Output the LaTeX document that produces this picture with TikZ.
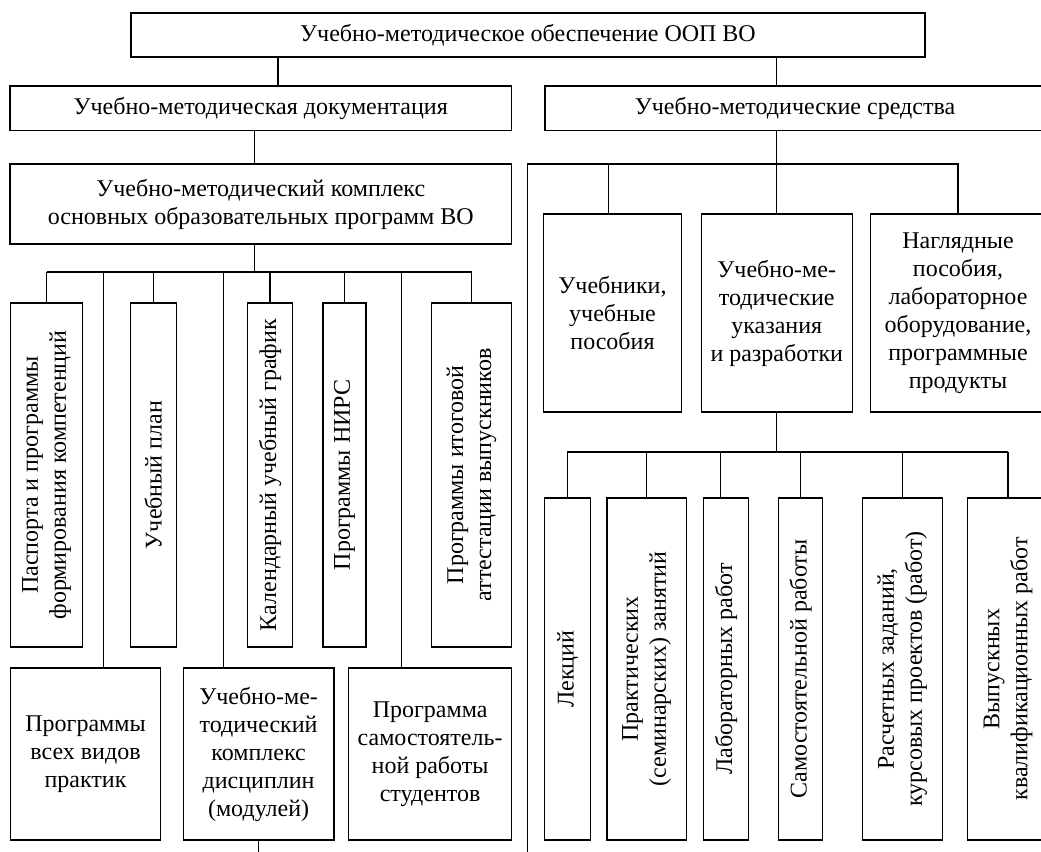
\documentclass[tikz,border=0pt]{standalone}
\usepackage{fontspec}
\setmainfont{Liberation Serif}
\newcommand\diagfont{\fontsize{24}{28}\selectfont}
\tikzset{
  box/.style={draw, line width=1.1pt, inner sep=0pt, align=center, font=\diagfont},
  hbox/.style={box},
  vbox/.style={box, rotate=90},
  conn/.style={line width=1.1pt},
}
\begin{document}
\begin{tikzpicture}[x=1pt,y=-1pt]
\useasboundingbox (0,0) rectangle (1041,851);
\clip (0,0) rectangle (1041,851);
% top levels
\node[hbox, minimum width=794pt, minimum height=44pt] (top) at (528,35) {Учебно-методическое обеспечение ООП ВО};
\node[hbox, minimum width=501.5pt, minimum height=44.5pt] (doc) at (260.75,108.25) {Учебно-методическая документация};
\node[hbox, minimum width=500pt, minimum height=44.5pt] (sred) at (795,108.25) {Учебно-методические средства};
\node[hbox, minimum width=501.5pt, minimum height=80pt] (umk) at (260.75,204) {Учебно-методический комплекс\\основных образовательных программ ВО};
% left vertical boxes
\node[vbox, minimum width=344pt, minimum height=72.3pt] (b1) at (46.5,475) {Паспорта и программы\\формирования компетенций};
\node[vbox, minimum width=344pt, minimum height=46.1pt] (b2) at (153.2,475) {Учебный план};
\node[vbox, minimum width=344pt, minimum height=45.5pt] (b3) at (270,475) {Календарный учебный график};
\node[vbox, minimum width=344pt, minimum height=43pt] (b4) at (344.5,475) {Программы НИРС};
\node[vbox, minimum width=344pt, minimum height=80pt] (b5) at (471.5,475) {Программы итоговой\\аттестации выпускников};
% left bottom boxes
\node[hbox, minimum width=150.5pt, minimum height=172pt] (ba) at (85.5,754) {Программы\\всех видов\\практик};
\node[hbox, minimum width=150.8pt, minimum height=172pt] (bb) at (258.6,754) {Учебно-ме-\\тодический\\комплекс\\дисциплин\\(модулей)};
\node[hbox, minimum width=162.6pt, minimum height=172pt] (bc) at (430.1,754) {Программа\\самостоятель-\\ной работы\\студентов};
% right middle boxes
\node[hbox, minimum width=137.4pt, minimum height=198pt] (uch) at (612.5,313) {Учебники,\\учебные\\пособия};
\node[hbox, minimum width=151.1pt, minimum height=198pt] (um) at (776.75,313) {Учебно-ме-\\тодические\\указания\\и разработки};
\node[hbox, minimum width=175.7pt, minimum height=198pt] (nag) at (958,313) {Наглядные\\пособия,\\лабораторное\\оборудование,\\программные\\продукты};
% right bottom vertical boxes
\node[vbox, minimum width=342pt, minimum height=45.5pt] (r1) at (567.65,669) {Лекций};
\node[vbox, minimum width=342pt, minimum height=79.3pt] (r2) at (646.65,669) {Практических\\(семинарских) занятий};
\node[vbox, minimum width=342pt, minimum height=44.8pt] (r3) at (726,669) {Лабораторных работ};
\node[vbox, minimum width=342pt, minimum height=43.8pt] (r4) at (800.7,669) {Самостоятельной работы};
\node[vbox, minimum width=342pt, minimum height=80.1pt] (r5) at (902.35,669) {Расчетных заданий,\\курсовых проектов (работ)};
\node[vbox, minimum width=342pt, minimum height=80.8pt] (r6) at (1008,669) {Выпускных\\квалификационных работ};
% connector helpers
\coordinate (xa) at (278,0);
\coordinate (xd) at (254.8,272);
\coordinate (busL) at (46.5,272);
\coordinate (busR) at (471.8,272);
\coordinate (xA) at (103.3,272);
\coordinate (xB) at (223.5,272);
\coordinate (xC) at (401.2,272);
\coordinate (fb) at (527.6,860);
\coordinate (fc) at (527.6,164);
\coordinate (k1) at (608.7,164);
\coordinate (bus2) at (776.75,452);
\coordinate (bus2L) at (567.3,452);
\coordinate (bus2R) at (1008,452);
\coordinate (k3) at (720.8,452);
\coordinate (bend) at (258.3,860);
% connectors
\draw[conn] (xa |- top.south) -- (xa |- doc.north);
\draw[conn] (top.south -| sred.north) ++(-18.3pt,0) coordinate (xs) -- (xs |- sred.north);
\draw[conn] (xd |- doc.south) -- (xd |- umk.north);
\draw[conn] (xd |- umk.south) -- (xd);
\draw[conn] (busL) -- (busR);
\draw[conn] (busL) -- (busL |- b1.east);
\draw[conn] (b2.east |- xd) -- (b2.east);
\draw[conn] (b3.east |- xd) -- (b3.east);
\draw[conn] (b4.east |- xd) -- (b4.east);
\draw[conn] (busR) -- (busR |- b5.east);
\draw[conn] (xA) -- (xA |- ba.north);
\draw[conn] (xB) -- (xB |- bb.north);
\draw[conn] (xC) -- (xC |- bc.north);
\draw[conn] (bb.south -| bend) -- (bend);
% right side
\draw[conn] (fb) -- (fc) -- (fc -| nag.north) -- (nag.north);
\draw[conn] (k1) -- (k1 |- uch.north);
\draw[conn] (sred.south -| um.north) -- (um.north);
\draw[conn] (um.south) -- (bus2);
\draw[conn] (bus2L) -- (bus2R);
\draw[conn] (bus2L) -- (bus2L |- r1.east);
\draw[conn] (r2.east |- bus2) -- (r2.east);
\draw[conn] (k3) -- (k3 |- r3.east);
\draw[conn] (r4.east |- bus2) -- (r4.east);
\draw[conn] (r5.east |- bus2) -- (r5.east);
\draw[conn] (bus2R) -- (bus2R |- r6.east);
\end{tikzpicture}
\end{document}
